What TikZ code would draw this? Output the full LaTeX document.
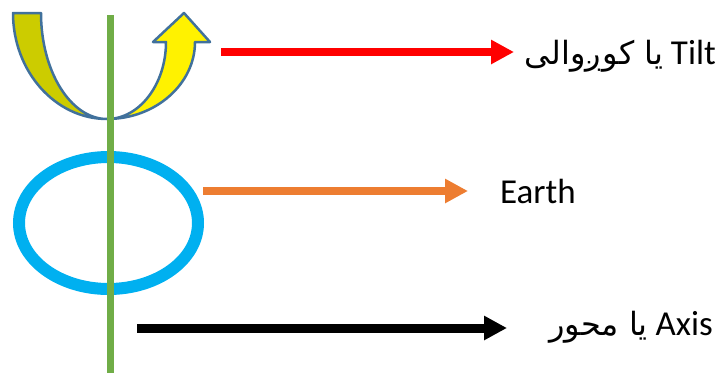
\documentclass[tikz,border=0pt]{standalone}
\usepackage{fontspec}
\setmainfont{Carlito}
\newfontfamily\arabicfont[Script=Arabic]{DejaVu Sans}
\TeXXeTstate=1
\usetikzlibrary{arrows.meta}
\definecolor{axisgreen}{HTML}{70AD47}
\definecolor{earthblue}{HTML}{00B0F0}
\definecolor{earthorange}{HTML}{ED7D31}
\definecolor{outlineblue}{HTML}{41719C}
\definecolor{olive}{HTML}{CCCC00}
\begin{document}
\begin{tikzpicture}[x=1pt,y=-1pt,
  pointer/.style={line width=8pt,-{Triangle[length=23pt,width=23pt]}},
  label/.style={inner sep=0pt,font=\fontsize{35}{40}\selectfont},
  band/.style={draw=outlineblue,line width=2.5pt,line join=round}]
\useasboundingbox (0,0) rectangle (720,373);
% curved tilt arrow
\path[band,fill=olive] (13,13) .. controls (13,71) and (55,119) .. (107,119)
  .. controls (70.5,119) and (41,71) .. (41,13) -- cycle;
\path[band,fill=yellow] (107,119) .. controls (155.6,119) and (195,84) .. (195,42)
  -- (210,42) -- (184,13) -- (153,42) -- (166,42)
  .. controls (166,84) and (139.6,119) .. (107,119) -- cycle;
% earth
\coordinate (ec) at (108.5,223);
\draw[earthblue,line width=12pt] (ec) ellipse [x radius=89.5pt, y radius=66pt];
% axis
\coordinate (atop) at (110.5,15);
\coordinate (abot) at (110.5,373);
\draw[axisgreen,line width=7pt] (atop) -- (abot);
% labels
\node[label,anchor=base east] (tilt) at (716,64)
  {{\arabicfont\fontsize{32}{38}\selectfont\beginR یا کوږوالی\endR} Tilt};
\node[label,anchor=base west] (earth) at (500,203) {Earth};
\node[label,anchor=base east] (axis) at (713,335)
  {{\arabicfont\fontsize{32}{38}\selectfont\beginR یا محور\endR} Axis};
% pointers
\coordinate (r0) at (221,52);
\coordinate (r1) at (514,52);
\draw[pointer,red] (r0) -- (r1);
\coordinate (o0) at (203,191);
\coordinate (o1) at (468,191);
\draw[pointer,earthorange] (o0) -- (o1);
\coordinate (k0) at (137,328);
\coordinate (k1) at (507,328);
\draw[pointer,black,line width=9pt] (k0) -- (k1);
\end{tikzpicture}
\end{document}
